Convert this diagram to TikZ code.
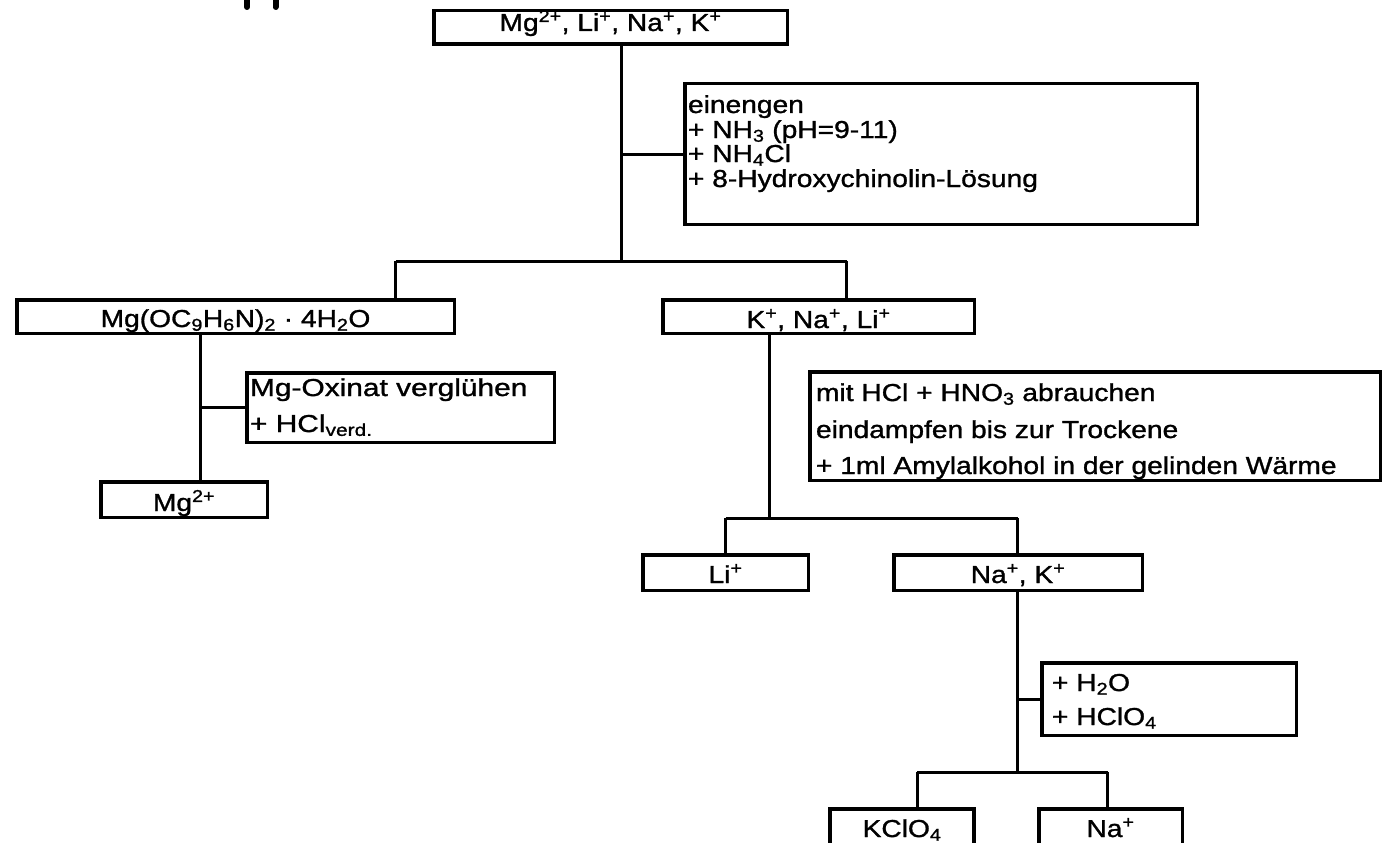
\documentclass[tikz,border=0pt]{standalone}
\usepackage{fontspec}
\setmainfont{Liberation Sans}[FakeStretch=1.15, FakeBold=1.2]
\newfontfamily\widefont{Liberation Sans}[FakeStretch=1.22, FakeBold=1.2]
\newcommand\up[1]{\textsuperscript{#1}}
\newcommand\dn[1]{\textsubscript{#1}}
\begin{document}
\begin{tikzpicture}[x=1pt,y=-1pt,
  box/.style={draw, line width=3.5pt, inner sep=0pt, outer sep=0pt},
  conn/.style={draw, line width=3pt},
  txt/.style={inner sep=0pt, outer sep=0pt, anchor=base, font=\fontsize{24.5}{25}\selectfont},
  ltxt/.style={txt, anchor=base west},
  wtxt/.style={ltxt, font=\fontsize{24.5}{25}\widefont}]
\useasboundingbox (0,0) rectangle (1382,843);
\clip (0,0) rectangle (1382,843);

% fragments of the heading above the chart
\draw[line width=6pt, line cap=round] (247,-5) -- (247,7);
\draw[line width=6pt, line cap=round] (275.5,-5) -- (275.5,7);

% boxes
\node[box, minimum width=353.5, minimum height=33.5] (top)  at (610.5,27.5) {};
\node[box, minimum width=512.5, minimum height=140.5] (eng) at (941,154) {};
\node[box, minimum width=437.5, minimum height=33.5] (mgox) at (235.5,316.5) {};
\node[box, minimum width=307.5, minimum height=69.5] (glueh) at (400.5,407.5) {};
\node[box, minimum width=166.5, minimum height=35.5] (mg)   at (184,499.5) {};
\node[box, minimum width=311.5, minimum height=33.5] (kna)  at (818.5,316.5) {};
\node[box, minimum width=570.5, minimum height=108.5] (amyl) at (1095,426) {};
\node[box, minimum width=165.5, minimum height=35.5] (li)   at (725.5,572.5) {};
\node[box, minimum width=248.5, minimum height=35.5] (nak)  at (1018,572.5) {};
\node[box, minimum width=254.5, minimum height=72.5] (perc) at (1169,699) {};
\node[box, minimum width=144, minimum height=69.5] (kclo)   at (902,843.5) {};
\node[box, minimum width=143.5, minimum height=69.5] (na)   at (1110.5,843.5) {};

% branch points
\coordinate (s1) at (621,261);
\coordinate (s1l) at (395.5,261);
\coordinate (s1r) at (846.5,261);
\coordinate (b1) at (621,154);
\coordinate (b2) at (200,407.5);
\coordinate (s2) at (769,518);
\coordinate (s2l) at (725.5,518);
\coordinate (s2r) at (1017.5,518);
\coordinate (b3) at (1017.5,699);
\coordinate (s3) at (1017.5,772);
\coordinate (s3l) at (917,772);
\coordinate (s3r) at (1107.5,772);

% connectors
\draw[conn] (s1 |- top.south) -- (s1);
\draw[conn] (s1l) -- (s1r);
\draw[conn] (b1) -- (eng.west);
\draw[conn] (s1l) -- (s1l |- mgox.north);
\draw[conn] (s1r) -- (s1r |- kna.north);
\draw[conn] (b2 |- mgox.south) -- (b2 |- mg.north);
\draw[conn] (b2) -- (glueh.west);
\draw[conn] (s2 |- kna.south) -- (s2);
\draw[conn] (s2l) -- (s2r);
\draw[conn] (s2l) -- (s2l |- li.north);
\draw[conn] (s2r) -- (s2r |- nak.north);
\draw[conn] (s3 |- nak.south) -- (s3);
\draw[conn] (b3) -- (perc.west);
\draw[conn] (s3l) -- (s3r);
\draw[conn] (s3l) -- (s3l |- kclo.north);
\draw[conn] (s3r) -- (s3r |- na.north);

% labels
\node[txt] (topT) at (610.5,31) {Mg\up{2+}, Li\up{+}, Na\up{+}, K\up{+}};
\node[ltxt] (eng1) at (688,113) {einengen};
\node[ltxt] (eng2) at (688,138) {+ NH\dn{3} (pH=9-11)};
\node[ltxt] (eng3) at (688,162) {+ NH\dn{4}Cl};
\node[ltxt] (eng4) at (688,187) {+ 8-Hydroxychinolin-Lösung};
\node[txt] (mgoxT) at (235.5,327) {Mg(OC\dn{9}H\dn{6}N)\dn{2} · 4H\dn{2}O};
\node[wtxt] (glueh1) at (250,396) {Mg-Oxinat verglühen};
\node[wtxt] (glueh2) at (250,432) {+ HCl\dn{verd.}};
\node[txt] (mgT) at (184,511) {Mg\up{2+}};
\node[txt] (knaT) at (818.5,328) {K\up{+}, Na\up{+}, Li\up{+}};
\node[ltxt] (amyl1) at (816,401) {mit HCl + HNO\dn{3} abrauchen};
\node[ltxt] (amyl2) at (816,438) {eindampfen bis zur Trockene};
\node[ltxt] (amyl3) at (816,474) {+ 1ml Amylalkohol in der gelinden Wärme};
\node[txt] (liT) at (725.5,583) {Li\up{+}};
\node[txt] (nakT) at (1018,583) {Na\up{+}, K\up{+}};
\node[ltxt] (perc1) at (1052,691) {+ H\dn{2}O};
\node[ltxt] (perc2) at (1052,725) {+ HClO\dn{4}};
\node[txt] (kcloT) at (902,837) {KClO\dn{4}};
\node[txt] (naT) at (1110.5,837) {Na\up{+}};
\end{tikzpicture}
\end{document}
